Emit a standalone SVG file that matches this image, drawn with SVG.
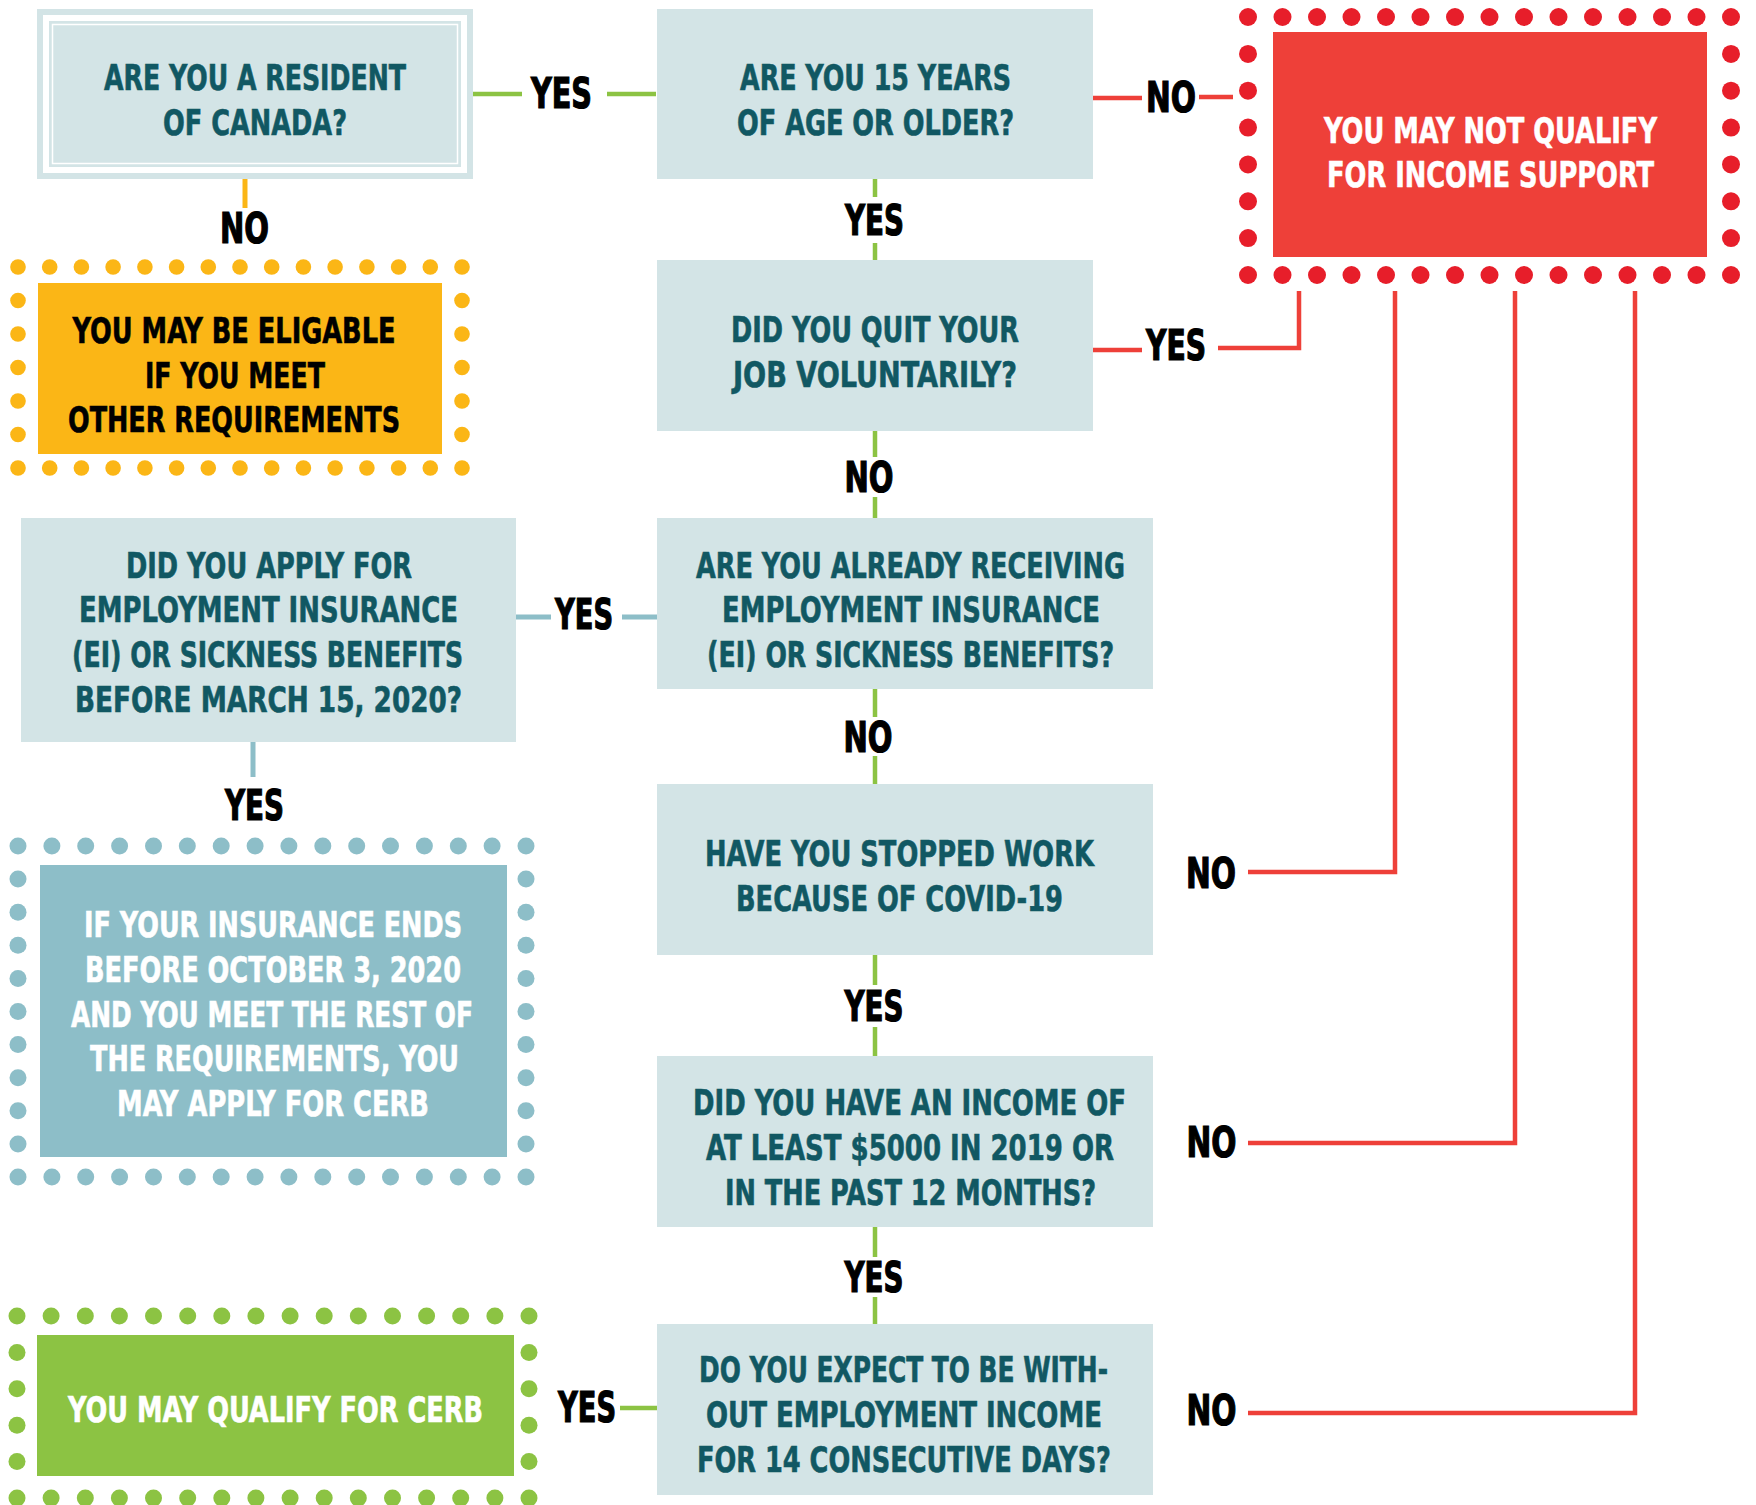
<svg xmlns="http://www.w3.org/2000/svg" xmlns:xlink="http://www.w3.org/1999/xlink" width="1756" height="1505" viewBox="0 0 1756 1505">
<style>
.q{fill:#d3e4e6}
.t{font-family:'Liberation Sans Narrow','DejaVu Sans Condensed','Liberation Sans',sans-serif;font-weight:bold;font-size:36px;text-anchor:middle;fill:#115863;stroke:#115863;stroke-width:0.6}
.w{fill:#ffffff;stroke:#ffffff}
.k{fill:#000000;stroke:#000000}
.lb{font-family:'Liberation Sans Narrow','DejaVu Sans Condensed','Liberation Sans',sans-serif;font-weight:bold;font-size:42px;text-anchor:middle;fill:#000;stroke:#000;stroke-width:1.2}
.g{stroke:#8cc343;stroke-width:4.5;fill:none}
.y{stroke:#fbb616;stroke-width:5;fill:none}
.b{stroke:#8dbec8;stroke-width:5;fill:none}
.r{stroke:#ee4039;stroke-width:4.5;fill:none}
.dr{fill:#e71e2a}
.dy{fill:#fbb616}
.db{fill:#8dbec8}
.dg{fill:#8cc343}
</style>
<defs>
<circle id="cr" r="9"/>
<circle id="cy" r="7.8"/>
<circle id="cb" r="8.5"/>
<circle id="cg" r="8.5"/>
</defs>
<rect width="1756" height="1505" fill="#ffffff"/>

<g id="connectors">
<path class="g" d="M473,94H522M607,94H656"/>
<path class="y" d="M245,179V208"/>
<path class="r" d="M1093,98H1142M1199,97H1233"/>
<path class="g" d="M875,179V197M875,243V260"/>
<path class="r" d="M1093,350H1142M1218,348H1299V291"/>
<path class="g" d="M875,431V457M875,497V518"/>
<path class="b" d="M516,617H551M622,617H657"/>
<path class="b" d="M253,742V777"/>
<path class="g" d="M875,689V717M875,756V784"/>
<path class="r" d="M1248,872H1395V291"/>
<path class="g" d="M875,955V985M875,1027V1056"/>
<path class="r" d="M1248,1143H1515V291"/>
<path class="g" d="M875,1227V1257M875,1297V1324"/>
<path class="r" d="M1248,1413H1635V291"/>
<path class="g" d="M620,1408H657"/>
<text class="lb" transform="translate(561.5 108) scale(.8 1)" textLength="76.25" lengthAdjust="spacingAndGlyphs">YES</text>
<text class="lb" transform="translate(244.5 243) scale(.8 1)" textLength="61.25" lengthAdjust="spacingAndGlyphs">NO</text>
<text class="lb" transform="translate(1171 112) scale(.8 1)" textLength="62.5" lengthAdjust="spacingAndGlyphs">NO</text>
<text class="lb" transform="translate(874.5 235) scale(.8 1)" textLength="73.75" lengthAdjust="spacingAndGlyphs">YES</text>
<text class="lb" transform="translate(1176 360) scale(.8 1)" textLength="75" lengthAdjust="spacingAndGlyphs">YES</text>
<text class="lb" transform="translate(869 492) scale(.8 1)" textLength="61.25" lengthAdjust="spacingAndGlyphs">NO</text>
<text class="lb" transform="translate(584 629) scale(.8 1)" textLength="72.5" lengthAdjust="spacingAndGlyphs">YES</text>
<text class="lb" transform="translate(254.5 819.5) scale(.8 1)" textLength="73.75" lengthAdjust="spacingAndGlyphs">YES</text>
<text class="lb" transform="translate(868 752) scale(.8 1)" textLength="61.25" lengthAdjust="spacingAndGlyphs">NO</text>
<text class="lb" transform="translate(1211 887.5) scale(.8 1)" textLength="62.5" lengthAdjust="spacingAndGlyphs">NO</text>
<text class="lb" transform="translate(874 1021) scale(.8 1)" textLength="73.75" lengthAdjust="spacingAndGlyphs">YES</text>
<text class="lb" transform="translate(1211.5 1157) scale(.8 1)" textLength="62.5" lengthAdjust="spacingAndGlyphs">NO</text>
<text class="lb" transform="translate(874 1292) scale(.8 1)" textLength="73.75" lengthAdjust="spacingAndGlyphs">YES</text>
<text class="lb" transform="translate(1211.5 1425) scale(.8 1)" textLength="62.5" lengthAdjust="spacingAndGlyphs">NO</text>
<text class="lb" transform="translate(587 1422) scale(.8 1)" textLength="72.5" lengthAdjust="spacingAndGlyphs">YES</text>
</g>

<g id="n-resident">
<rect class="q" x="37" y="9" width="436" height="170"/>
<rect x="46" y="18" width="418" height="152" fill="none" stroke="#fff" stroke-width="6"/>
<rect x="52.5" y="24.5" width="405" height="139" fill="none" stroke="#fff" stroke-width="1.5"/>
<text class="t" transform="translate(255 90) scale(.75 1)" textLength="402.7" lengthAdjust="spacingAndGlyphs">ARE YOU A RESIDENT</text>
<text class="t" transform="translate(255 135) scale(.75 1)" textLength="245.3" lengthAdjust="spacingAndGlyphs">OF CANADA?</text>
</g>

<g id="n-age">
<rect class="q" x="657" y="9" width="436" height="170"/>
<text class="t" transform="translate(875.5 90) scale(.75 1)" textLength="361.3" lengthAdjust="spacingAndGlyphs">ARE YOU 15 YEARS</text>
<text class="t" transform="translate(875.5 135) scale(.75 1)" textLength="369.3" lengthAdjust="spacingAndGlyphs">OF AGE OR OLDER?</text>
</g>

<g id="n-not-qualify">
<rect x="1273" y="32" width="434" height="225" fill="#ee4039"/>
<g class="dr">
<use href="#cr" x="1248" y="17"/><use href="#cr" x="1282.5" y="17"/><use href="#cr" x="1317" y="17"/><use href="#cr" x="1351.5" y="17"/><use href="#cr" x="1386" y="17"/><use href="#cr" x="1420.5" y="17"/><use href="#cr" x="1455" y="17"/><use href="#cr" x="1489.5" y="17"/><use href="#cr" x="1524" y="17"/><use href="#cr" x="1558.5" y="17"/><use href="#cr" x="1593" y="17"/><use href="#cr" x="1627.5" y="17"/><use href="#cr" x="1662" y="17"/><use href="#cr" x="1696.5" y="17"/><use href="#cr" x="1731" y="17"/>
<use href="#cr" x="1248" y="275"/><use href="#cr" x="1282.5" y="275"/><use href="#cr" x="1317" y="275"/><use href="#cr" x="1351.5" y="275"/><use href="#cr" x="1386" y="275"/><use href="#cr" x="1420.5" y="275"/><use href="#cr" x="1455" y="275"/><use href="#cr" x="1489.5" y="275"/><use href="#cr" x="1524" y="275"/><use href="#cr" x="1558.5" y="275"/><use href="#cr" x="1593" y="275"/><use href="#cr" x="1627.5" y="275"/><use href="#cr" x="1662" y="275"/><use href="#cr" x="1696.5" y="275"/><use href="#cr" x="1731" y="275"/>
<use href="#cr" x="1248" y="53.9"/><use href="#cr" x="1248" y="90.7"/><use href="#cr" x="1248" y="127.6"/><use href="#cr" x="1248" y="164.4"/><use href="#cr" x="1248" y="201.3"/><use href="#cr" x="1248" y="238.1"/>
<use href="#cr" x="1731" y="53.9"/><use href="#cr" x="1731" y="90.7"/><use href="#cr" x="1731" y="127.6"/><use href="#cr" x="1731" y="164.4"/><use href="#cr" x="1731" y="201.3"/><use href="#cr" x="1731" y="238.1"/>
</g>
<text class="t w" transform="translate(1490.5 143) scale(.75 1)" textLength="444" lengthAdjust="spacingAndGlyphs">YOU MAY NOT QUALIFY</text>
<text class="t w" transform="translate(1490.5 187) scale(.75 1)" textLength="436" lengthAdjust="spacingAndGlyphs">FOR INCOME SUPPORT</text>
</g>

<g id="n-eligible">
<rect x="38" y="283" width="404" height="171" fill="#fbb616"/>
<g class="dy">
<use href="#cy" x="18" y="267"/><use href="#cy" x="49.7" y="267"/><use href="#cy" x="81.4" y="267"/><use href="#cy" x="113.1" y="267"/><use href="#cy" x="144.9" y="267"/><use href="#cy" x="176.6" y="267"/><use href="#cy" x="208.3" y="267"/><use href="#cy" x="240" y="267"/><use href="#cy" x="271.7" y="267"/><use href="#cy" x="303.4" y="267"/><use href="#cy" x="335.1" y="267"/><use href="#cy" x="366.9" y="267"/><use href="#cy" x="398.6" y="267"/><use href="#cy" x="430.3" y="267"/><use href="#cy" x="462" y="267"/>
<use href="#cy" x="18" y="468"/><use href="#cy" x="49.7" y="468"/><use href="#cy" x="81.4" y="468"/><use href="#cy" x="113.1" y="468"/><use href="#cy" x="144.9" y="468"/><use href="#cy" x="176.6" y="468"/><use href="#cy" x="208.3" y="468"/><use href="#cy" x="240" y="468"/><use href="#cy" x="271.7" y="468"/><use href="#cy" x="303.4" y="468"/><use href="#cy" x="335.1" y="468"/><use href="#cy" x="366.9" y="468"/><use href="#cy" x="398.6" y="468"/><use href="#cy" x="430.3" y="468"/><use href="#cy" x="462" y="468"/>
<use href="#cy" x="18" y="300.5"/><use href="#cy" x="18" y="334"/><use href="#cy" x="18" y="367.5"/><use href="#cy" x="18" y="401"/><use href="#cy" x="18" y="434.5"/>
<use href="#cy" x="462" y="300.5"/><use href="#cy" x="462" y="334"/><use href="#cy" x="462" y="367.5"/><use href="#cy" x="462" y="401"/><use href="#cy" x="462" y="434.5"/>
</g>
<text class="t k" transform="translate(234 343) scale(.75 1)" textLength="430.7" lengthAdjust="spacingAndGlyphs">YOU MAY BE ELIGABLE</text>
<text class="t k" transform="translate(235 388) scale(.75 1)" textLength="240" lengthAdjust="spacingAndGlyphs">IF YOU MEET</text>
<text class="t k" transform="translate(234 432) scale(.75 1)" textLength="442.7" lengthAdjust="spacingAndGlyphs">OTHER REQUIREMENTS</text>
</g>

<g id="n-quit">
<rect class="q" x="657" y="260" width="436" height="171"/>
<text class="t" transform="translate(875 342) scale(.75 1)" textLength="384" lengthAdjust="spacingAndGlyphs">DID YOU QUIT YOUR</text>
<text class="t" transform="translate(875 387) scale(.75 1)" textLength="378.7" lengthAdjust="spacingAndGlyphs">JOB VOLUNTARILY?</text>
</g>

<g id="n-receiving">
<rect class="q" x="657" y="518" width="496" height="171"/>
<text class="t" transform="translate(910.5 578) scale(.75 1)" textLength="572" lengthAdjust="spacingAndGlyphs">ARE YOU ALREADY RECEIVING</text>
<text class="t" transform="translate(911 622) scale(.75 1)" textLength="504" lengthAdjust="spacingAndGlyphs">EMPLOYMENT INSURANCE</text>
<text class="t" transform="translate(910.5 667) scale(.75 1)" textLength="542.7" lengthAdjust="spacingAndGlyphs">(EI) OR SICKNESS BENEFITS?</text>
</g>

<g id="n-applied">
<rect class="q" x="21" y="518" width="495" height="224"/>
<text class="t" transform="translate(269 578) scale(.75 1)" textLength="381.3" lengthAdjust="spacingAndGlyphs">DID YOU APPLY FOR</text>
<text class="t" transform="translate(268.5 622) scale(.75 1)" textLength="505.3" lengthAdjust="spacingAndGlyphs">EMPLOYMENT INSURANCE</text>
<text class="t" transform="translate(267.5 667) scale(.75 1)" textLength="521.3" lengthAdjust="spacingAndGlyphs">(EI) OR SICKNESS BENEFITS</text>
<text class="t" transform="translate(268.5 711.5) scale(.75 1)" textLength="516" lengthAdjust="spacingAndGlyphs">BEFORE MARCH 15, 2020?</text>
</g>

<g id="n-insurance-ends">
<rect x="40" y="865" width="467" height="292" fill="#8dbec8"/>
<g class="db">
<use href="#cb" x="18" y="846"/><use href="#cb" x="51.9" y="846"/><use href="#cb" x="85.7" y="846"/><use href="#cb" x="119.6" y="846"/><use href="#cb" x="153.5" y="846"/><use href="#cb" x="187.3" y="846"/><use href="#cb" x="221.2" y="846"/><use href="#cb" x="255.1" y="846"/><use href="#cb" x="288.9" y="846"/><use href="#cb" x="322.8" y="846"/><use href="#cb" x="356.7" y="846"/><use href="#cb" x="390.5" y="846"/><use href="#cb" x="424.4" y="846"/><use href="#cb" x="458.3" y="846"/><use href="#cb" x="492.1" y="846"/><use href="#cb" x="526" y="846"/>
<use href="#cb" x="18" y="1177"/><use href="#cb" x="51.9" y="1177"/><use href="#cb" x="85.7" y="1177"/><use href="#cb" x="119.6" y="1177"/><use href="#cb" x="153.5" y="1177"/><use href="#cb" x="187.3" y="1177"/><use href="#cb" x="221.2" y="1177"/><use href="#cb" x="255.1" y="1177"/><use href="#cb" x="288.9" y="1177"/><use href="#cb" x="322.8" y="1177"/><use href="#cb" x="356.7" y="1177"/><use href="#cb" x="390.5" y="1177"/><use href="#cb" x="424.4" y="1177"/><use href="#cb" x="458.3" y="1177"/><use href="#cb" x="492.1" y="1177"/><use href="#cb" x="526" y="1177"/>
<use href="#cb" x="18" y="879.1"/><use href="#cb" x="18" y="912.2"/><use href="#cb" x="18" y="945.3"/><use href="#cb" x="18" y="978.4"/><use href="#cb" x="18" y="1011.5"/><use href="#cb" x="18" y="1044.6"/><use href="#cb" x="18" y="1077.7"/><use href="#cb" x="18" y="1110.8"/><use href="#cb" x="18" y="1143.9"/>
<use href="#cb" x="526" y="879.1"/><use href="#cb" x="526" y="912.2"/><use href="#cb" x="526" y="945.3"/><use href="#cb" x="526" y="978.4"/><use href="#cb" x="526" y="1011.5"/><use href="#cb" x="526" y="1044.6"/><use href="#cb" x="526" y="1077.7"/><use href="#cb" x="526" y="1110.8"/><use href="#cb" x="526" y="1143.9"/>
</g>
<text class="t w" transform="translate(273 937) scale(.75 1)" textLength="504" lengthAdjust="spacingAndGlyphs">IF YOUR INSURANCE ENDS</text>
<text class="t w" transform="translate(273 982) scale(.75 1)" textLength="501.3" lengthAdjust="spacingAndGlyphs">BEFORE OCTOBER 3, 2020</text>
<text class="t w" transform="translate(272 1027) scale(.75 1)" textLength="536" lengthAdjust="spacingAndGlyphs">AND YOU MEET THE REST OF</text>
<text class="t w" transform="translate(274.5 1071) scale(.75 1)" textLength="492" lengthAdjust="spacingAndGlyphs">THE REQUIREMENTS, YOU</text>
<text class="t w" transform="translate(273 1116) scale(.75 1)" textLength="416" lengthAdjust="spacingAndGlyphs">MAY APPLY FOR CERB</text>
</g>

<g id="n-covid">
<rect class="q" x="657" y="784" width="496" height="171"/>
<text class="t" transform="translate(899.5 866) scale(.75 1)" textLength="518.7" lengthAdjust="spacingAndGlyphs">HAVE YOU STOPPED WORK</text>
<text class="t" transform="translate(899.5 910.5) scale(.75 1)" textLength="436" lengthAdjust="spacingAndGlyphs">BECAUSE OF COVID-19</text>
</g>

<g id="n-income">
<rect class="q" x="657" y="1056" width="496" height="171"/>
<text class="t" transform="translate(909.5 1115) scale(.75 1)" textLength="577.3" lengthAdjust="spacingAndGlyphs">DID YOU HAVE AN INCOME OF</text>
<text class="t" transform="translate(910 1160) scale(.75 1)" textLength="544" lengthAdjust="spacingAndGlyphs">AT LEAST $5000 IN 2019 OR</text>
<text class="t" transform="translate(910.5 1205) scale(.75 1)" textLength="494.7" lengthAdjust="spacingAndGlyphs">IN THE PAST 12 MONTHS?</text>
</g>

<g id="n-without-income">
<rect class="q" x="657" y="1324" width="496" height="171"/>
<text class="t" transform="translate(903.5 1382) scale(.75 1)" textLength="545.3" lengthAdjust="spacingAndGlyphs">DO YOU EXPECT TO BE WITH-</text>
<text class="t" transform="translate(904 1427) scale(.75 1)" textLength="528" lengthAdjust="spacingAndGlyphs">OUT EMPLOYMENT INCOME</text>
<text class="t" transform="translate(904 1472) scale(.75 1)" textLength="552" lengthAdjust="spacingAndGlyphs">FOR 14 CONSECUTIVE DAYS?</text>
</g>

<g id="n-qualify-cerb">
<rect x="37" y="1335" width="477" height="141" fill="#8cc343"/>
<g class="dg">
<use href="#cg" x="17" y="1316"/><use href="#cg" x="51.1" y="1316"/><use href="#cg" x="85.3" y="1316"/><use href="#cg" x="119.4" y="1316"/><use href="#cg" x="153.5" y="1316"/><use href="#cg" x="187.7" y="1316"/><use href="#cg" x="221.8" y="1316"/><use href="#cg" x="255.9" y="1316"/><use href="#cg" x="290.1" y="1316"/><use href="#cg" x="324.2" y="1316"/><use href="#cg" x="358.3" y="1316"/><use href="#cg" x="392.5" y="1316"/><use href="#cg" x="426.6" y="1316"/><use href="#cg" x="460.7" y="1316"/><use href="#cg" x="494.9" y="1316"/><use href="#cg" x="529" y="1316"/>
<use href="#cg" x="17" y="1498"/><use href="#cg" x="51.1" y="1498"/><use href="#cg" x="85.3" y="1498"/><use href="#cg" x="119.4" y="1498"/><use href="#cg" x="153.5" y="1498"/><use href="#cg" x="187.7" y="1498"/><use href="#cg" x="221.8" y="1498"/><use href="#cg" x="255.9" y="1498"/><use href="#cg" x="290.1" y="1498"/><use href="#cg" x="324.2" y="1498"/><use href="#cg" x="358.3" y="1498"/><use href="#cg" x="392.5" y="1498"/><use href="#cg" x="426.6" y="1498"/><use href="#cg" x="460.7" y="1498"/><use href="#cg" x="494.9" y="1498"/><use href="#cg" x="529" y="1498"/>
<use href="#cg" x="17" y="1352.4"/><use href="#cg" x="17" y="1388.8"/><use href="#cg" x="17" y="1425.2"/><use href="#cg" x="17" y="1461.6"/>
<use href="#cg" x="529" y="1352.4"/><use href="#cg" x="529" y="1388.8"/><use href="#cg" x="529" y="1425.2"/><use href="#cg" x="529" y="1461.6"/>
</g>
<text class="t w" transform="translate(275.5 1422) scale(.75 1)" textLength="553.3" lengthAdjust="spacingAndGlyphs">YOU MAY QUALIFY FOR CERB</text>
</g>
</svg>
